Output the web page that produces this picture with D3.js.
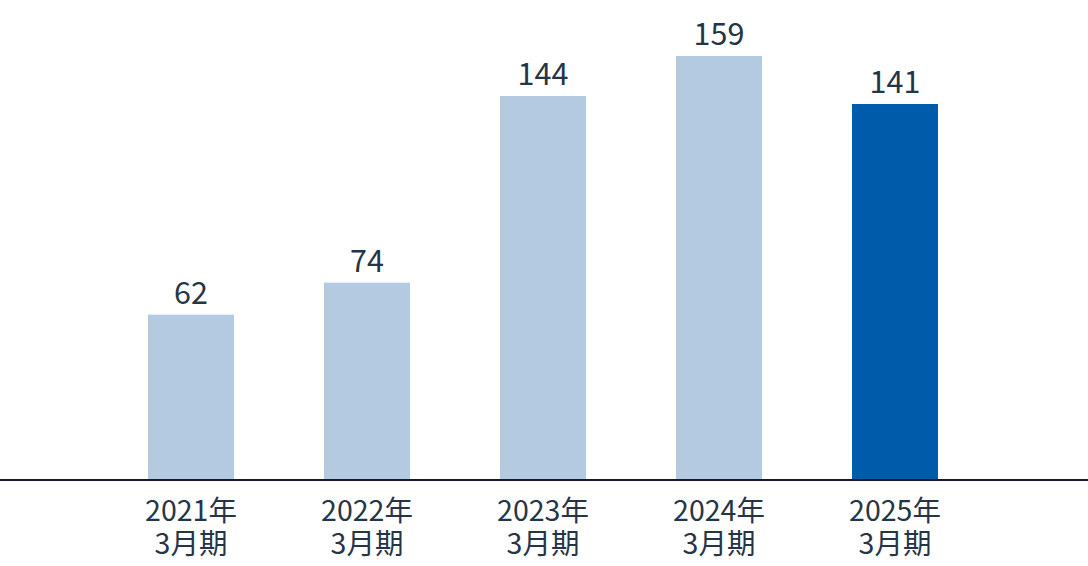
<!DOCTYPE html>
<html>
<head>
<meta charset="utf-8">
<script src="https://cdn.jsdelivr.net/npm/d3@7"></script>
<style>
  body { margin: 0; background: #fff; }
  svg { display: block; font-family: "Noto Sans CJK JP", "Noto Sans", sans-serif; }
</style>
</head>
<body>
<div id="chart"></div>
<script>
// fiscal years (label split over two lines)
var years = ['2021年', '2022年', '2023年', '2024年', '2025年'];
var periods = ['3月期', '3月期', '3月期', '3月期', '3月期'];
var values = [62, 74, 144, 159, 141];

var width = 1088;
var height = 566;
var baseY = 480;

var svg = d3.select('#chart').append('svg')
    .attr('width', width)
    .attr('height', height);

var x = d3.scaleBand()
    .domain(years)
    .range([103, 983])
    .paddingInner(0.5114)
    .paddingOuter(0.2557);

var y = d3.scaleLinear()
    .domain([0, 180])
    .range([baseY, 0]);

svg.append('g')
    .selectAll('rect')
    .data(values)
    .enter()
    .append('rect')
    .attr('x', function(d, i) { return x(years[i]); })
    .attr('y', function(d) { return y(d); })
    .attr('width', x.bandwidth())
    .attr('height', function(d) { return y(0) - y(d); })
    .attr('fill', function(d, i) { return i === values.length - 1 ? '#005bab' : '#b3cae0'; });

svg.append('g')
    .selectAll('text')
    .data(values)
    .enter()
    .append('text')
    .attr('x', function(d, i) { return x(years[i]) + x.bandwidth() / 2; })
    .attr('y', function(d) { return y(d) - 11; })
    .attr('text-anchor', 'middle')
    .attr('fill', '#253545')
    .style('font-size', '30.5px')
    .text(function(d) { return d; });

// baseline across the whole width
svg.append('line')
    .attr('x1', 0)
    .attr('x2', width)
    .attr('y1', y(0))
    .attr('y2', y(0))
    .attr('stroke', '#161a30')
    .attr('stroke-width', 2);

var labels = svg.append('g')
    .selectAll('text')
    .data(years)
    .enter()
    .append('text')
    .attr('text-anchor', 'middle')
    .attr('fill', '#253545')
    .style('font-size', '28.5px');

labels.append('tspan')
    .attr('x', function(d) { return x(d) + x.bandwidth() / 2; })
    .attr('y', 521)
    .text(function(d) { return d; });

labels.append('tspan')
    .attr('x', function(d) { return x(d) + x.bandwidth() / 2; })
    .attr('y', 554)
    .text(function(d, i) { return periods[i]; });
</script>
</body>
</html>
